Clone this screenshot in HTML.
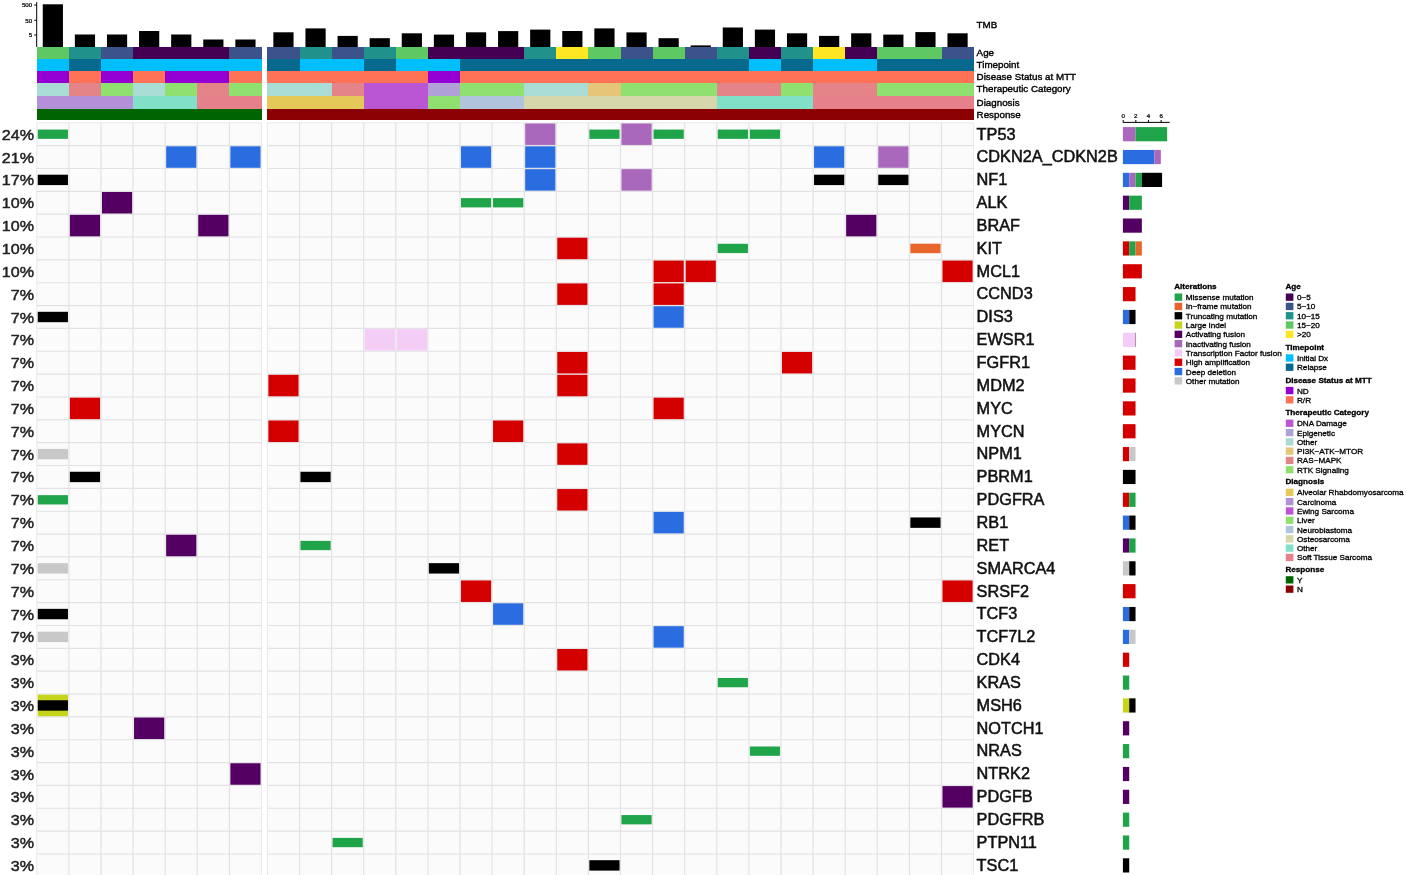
<!DOCTYPE html>
<html lang="en">
<head>
<meta charset="utf-8">
<title>Oncoprint</title>
<style>
html,body{margin:0;padding:0;background:#fff;}
body{width:1406px;height:875px;overflow:hidden;}
svg{display:block;font-family:"Liberation Sans",Arial,Helvetica,sans-serif;}
</style>
</head>
<body>
<svg width="1406" height="875" viewBox="0 0 1406 875">
<rect width="1406" height="875" fill="#fff"/>
<g id="tmb">
<rect x="42.75" y="4.30" width="20.20" height="42.90" fill="#000"/>
<rect x="74.85" y="34.50" width="20.20" height="12.70" fill="#000"/>
<rect x="106.95" y="34.50" width="20.20" height="12.70" fill="#000"/>
<rect x="139.05" y="31.00" width="20.20" height="16.20" fill="#000"/>
<rect x="171.15" y="34.50" width="20.20" height="12.70" fill="#000"/>
<rect x="203.25" y="39.50" width="20.20" height="7.70" fill="#000"/>
<rect x="235.35" y="39.50" width="20.20" height="7.70" fill="#000"/>
<rect x="273.35" y="32.30" width="20.20" height="14.90" fill="#000"/>
<rect x="305.45" y="28.40" width="20.20" height="18.80" fill="#000"/>
<rect x="337.55" y="35.90" width="20.20" height="11.30" fill="#000"/>
<rect x="369.65" y="38.20" width="20.20" height="9.00" fill="#000"/>
<rect x="401.75" y="33.30" width="20.20" height="13.90" fill="#000"/>
<rect x="433.85" y="34.60" width="20.20" height="12.60" fill="#000"/>
<rect x="465.95" y="32.30" width="20.20" height="14.90" fill="#000"/>
<rect x="498.05" y="31.10" width="20.20" height="16.10" fill="#000"/>
<rect x="530.15" y="29.60" width="20.20" height="17.60" fill="#000"/>
<rect x="562.25" y="31.00" width="20.20" height="16.20" fill="#000"/>
<rect x="594.35" y="28.40" width="20.20" height="18.80" fill="#000"/>
<rect x="626.45" y="32.40" width="20.20" height="14.80" fill="#000"/>
<rect x="658.55" y="38.20" width="20.20" height="9.00" fill="#000"/>
<rect x="690.65" y="45.40" width="20.20" height="1.80" fill="#000"/>
<rect x="722.75" y="27.50" width="20.20" height="19.70" fill="#000"/>
<rect x="754.85" y="29.60" width="20.20" height="17.60" fill="#000"/>
<rect x="786.95" y="33.30" width="20.20" height="13.90" fill="#000"/>
<rect x="819.05" y="35.90" width="20.20" height="11.30" fill="#000"/>
<rect x="851.15" y="33.30" width="20.20" height="13.90" fill="#000"/>
<rect x="883.25" y="34.60" width="20.20" height="12.60" fill="#000"/>
<rect x="915.35" y="32.10" width="20.20" height="15.10" fill="#000"/>
<rect x="947.45" y="33.30" width="20.20" height="13.90" fill="#000"/>
<path d="M36.7 2.2V46.9 M34.2 5H36.7 M34.2 20.3H36.7 M34.2 35H36.7" stroke="#000" stroke-width="1" fill="none"/>
<text transform="translate(32.20 7.20) scale(1.1 1)" font-size="5.64" text-anchor="end" fill="#000" stroke="#000" stroke-width="0.23">500</text>
<text transform="translate(32.20 22.50) scale(1.1 1)" font-size="5.64" text-anchor="end" fill="#000" stroke="#000" stroke-width="0.23">50</text>
<text transform="translate(32.20 37.20) scale(1.1 1)" font-size="5.64" text-anchor="end" fill="#000" stroke="#000" stroke-width="0.23">5</text>
</g>
<g id="annot" shape-rendering="crispEdges">
<rect x="36.80" y="47.00" width="32.10" height="11.90" fill="#5ec962"/>
<rect x="68.90" y="47.00" width="32.10" height="11.90" fill="#21918c"/>
<rect x="101.00" y="47.00" width="32.10" height="11.90" fill="#3b528b"/>
<rect x="133.10" y="47.00" width="96.30" height="11.90" fill="#440154"/>
<rect x="229.40" y="47.00" width="32.10" height="11.90" fill="#3b528b"/>
<rect x="267.40" y="47.00" width="32.10" height="11.90" fill="#3b528b"/>
<rect x="299.50" y="47.00" width="32.10" height="11.90" fill="#21918c"/>
<rect x="331.60" y="47.00" width="32.10" height="11.90" fill="#3b528b"/>
<rect x="363.70" y="47.00" width="32.10" height="11.90" fill="#21918c"/>
<rect x="395.80" y="47.00" width="32.10" height="11.90" fill="#5ec962"/>
<rect x="427.90" y="47.00" width="96.30" height="11.90" fill="#440154"/>
<rect x="524.20" y="47.00" width="32.10" height="11.90" fill="#21918c"/>
<rect x="556.30" y="47.00" width="32.10" height="11.90" fill="#fde725"/>
<rect x="588.40" y="47.00" width="32.10" height="11.90" fill="#5ec962"/>
<rect x="620.50" y="47.00" width="32.10" height="11.90" fill="#3b528b"/>
<rect x="652.60" y="47.00" width="32.10" height="11.90" fill="#5ec962"/>
<rect x="684.70" y="47.00" width="32.10" height="11.90" fill="#3b528b"/>
<rect x="716.80" y="47.00" width="32.10" height="11.90" fill="#21918c"/>
<rect x="748.90" y="47.00" width="32.10" height="11.90" fill="#440154"/>
<rect x="781.00" y="47.00" width="32.10" height="11.90" fill="#21918c"/>
<rect x="813.10" y="47.00" width="32.10" height="11.90" fill="#fde725"/>
<rect x="845.20" y="47.00" width="32.10" height="11.90" fill="#440154"/>
<rect x="877.30" y="47.00" width="64.20" height="11.90" fill="#5ec962"/>
<rect x="941.50" y="47.00" width="32.10" height="11.90" fill="#3b528b"/>
<rect x="36.80" y="58.60" width="32.10" height="12.40" fill="#00bfff"/>
<rect x="68.90" y="58.60" width="32.10" height="12.40" fill="#08698f"/>
<rect x="101.00" y="58.60" width="160.50" height="12.40" fill="#00bfff"/>
<rect x="267.40" y="58.60" width="32.10" height="12.40" fill="#08698f"/>
<rect x="299.50" y="58.60" width="64.20" height="12.40" fill="#00bfff"/>
<rect x="363.70" y="58.60" width="32.10" height="12.40" fill="#08698f"/>
<rect x="395.80" y="58.60" width="64.20" height="12.40" fill="#00bfff"/>
<rect x="460.00" y="58.60" width="288.90" height="12.40" fill="#08698f"/>
<rect x="748.90" y="58.60" width="32.10" height="12.40" fill="#00bfff"/>
<rect x="781.00" y="58.60" width="32.10" height="12.40" fill="#08698f"/>
<rect x="813.10" y="58.60" width="64.20" height="12.40" fill="#00bfff"/>
<rect x="877.30" y="58.60" width="96.30" height="12.40" fill="#08698f"/>
<rect x="36.80" y="70.70" width="32.10" height="12.40" fill="#9400d3"/>
<rect x="68.90" y="70.70" width="32.10" height="12.40" fill="#ff7256"/>
<rect x="101.00" y="70.70" width="32.10" height="12.40" fill="#9400d3"/>
<rect x="133.10" y="70.70" width="32.10" height="12.40" fill="#ff7256"/>
<rect x="165.20" y="70.70" width="64.20" height="12.40" fill="#9400d3"/>
<rect x="229.40" y="70.70" width="32.10" height="12.40" fill="#ff7256"/>
<rect x="267.40" y="70.70" width="160.50" height="12.40" fill="#ff7256"/>
<rect x="427.90" y="70.70" width="32.10" height="12.40" fill="#9400d3"/>
<rect x="460.00" y="70.70" width="513.60" height="12.40" fill="#ff7256"/>
<rect x="36.80" y="82.80" width="32.10" height="13.10" fill="#a8dcd4"/>
<rect x="68.90" y="82.80" width="32.10" height="13.10" fill="#e48488"/>
<rect x="101.00" y="82.80" width="32.10" height="13.10" fill="#90e070"/>
<rect x="133.10" y="82.80" width="32.10" height="13.10" fill="#a8dcd4"/>
<rect x="165.20" y="82.80" width="32.10" height="13.10" fill="#90e070"/>
<rect x="197.30" y="82.80" width="32.10" height="13.10" fill="#e48488"/>
<rect x="229.40" y="82.80" width="32.10" height="13.10" fill="#90e070"/>
<rect x="267.40" y="82.80" width="64.20" height="13.10" fill="#a8dcd4"/>
<rect x="331.60" y="82.80" width="32.10" height="13.10" fill="#e48488"/>
<rect x="363.70" y="82.80" width="64.20" height="13.10" fill="#ba55d3"/>
<rect x="427.90" y="82.80" width="32.10" height="13.10" fill="#b0a0d8"/>
<rect x="460.00" y="82.80" width="64.20" height="13.10" fill="#90e070"/>
<rect x="524.20" y="82.80" width="64.20" height="13.10" fill="#a8dcd4"/>
<rect x="588.40" y="82.80" width="32.10" height="13.10" fill="#e6c478"/>
<rect x="620.50" y="82.80" width="96.30" height="13.10" fill="#90e070"/>
<rect x="716.80" y="82.80" width="64.20" height="13.10" fill="#e48488"/>
<rect x="781.00" y="82.80" width="32.10" height="13.10" fill="#90e070"/>
<rect x="813.10" y="82.80" width="64.20" height="13.10" fill="#e48488"/>
<rect x="877.30" y="82.80" width="96.30" height="13.10" fill="#90e070"/>
<rect x="36.80" y="95.60" width="96.30" height="13.30" fill="#b490d8"/>
<rect x="133.10" y="95.60" width="64.20" height="13.30" fill="#80e0c8"/>
<rect x="197.30" y="95.60" width="64.20" height="13.30" fill="#e6808a"/>
<rect x="267.40" y="95.60" width="96.30" height="13.30" fill="#e4c858"/>
<rect x="363.70" y="95.60" width="64.20" height="13.30" fill="#ba55d3"/>
<rect x="427.90" y="95.60" width="32.10" height="13.30" fill="#90e070"/>
<rect x="460.00" y="95.60" width="64.20" height="13.30" fill="#b0c4de"/>
<rect x="524.20" y="95.60" width="192.60" height="13.30" fill="#d6d8ac"/>
<rect x="716.80" y="95.60" width="96.30" height="13.30" fill="#80e0c8"/>
<rect x="813.10" y="95.60" width="160.50" height="13.30" fill="#e6808a"/>
<rect x="36.80" y="108.60" width="224.70" height="11.60" fill="#006400"/>
<rect x="267.40" y="108.60" width="706.20" height="11.60" fill="#8b0000"/>
</g>
<text transform="translate(976.60 55.70) scale(1.02 1)" font-size="9.61" fill="#000" stroke="#000" stroke-width="0.38">Age</text>
<text transform="translate(976.60 67.60) scale(1.02 1)" font-size="9.61" fill="#000" stroke="#000" stroke-width="0.38">Timepoint</text>
<text transform="translate(976.60 79.60) scale(1.02 1)" font-size="9.61" fill="#000" stroke="#000" stroke-width="0.38">Disease Status at MTT</text>
<text transform="translate(976.60 92.30) scale(1.02 1)" font-size="9.61" fill="#000" stroke="#000" stroke-width="0.38">Therapeutic Category</text>
<text transform="translate(976.60 106.00) scale(1.02 1)" font-size="9.61" fill="#000" stroke="#000" stroke-width="0.38">Diagnosis</text>
<text transform="translate(976.60 118.00) scale(1.02 1)" font-size="9.61" fill="#000" stroke="#000" stroke-width="0.38">Response</text>
<text transform="translate(976.60 27.80) scale(1.02 1)" font-size="9.61" fill="#000" stroke="#000" stroke-width="0.38">TMB</text>
<g id="grid">
<rect x="36.80" y="122.77" width="224.70" height="754.05" fill="#fbfbfb"/>
<rect x="267.40" y="122.77" width="706.20" height="754.05" fill="#fbfbfb"/>
<path d="M36.80 122.77V876.83M261.50 122.77V876.83M36.80 122.77H261.50M267.40 122.77V876.83M973.60 122.77V876.83M267.40 122.77H973.60" stroke="#e9e9ec" stroke-width="1" fill="none"/>
<path d="M68.90 122.77V876.83M101.00 122.77V876.83M133.10 122.77V876.83M165.20 122.77V876.83M197.30 122.77V876.83M229.40 122.77V876.83M36.80 145.62H261.50M36.80 168.47H261.50M36.80 191.32H261.50M36.80 214.18H261.50M36.80 237.02H261.50M36.80 259.88H261.50M36.80 282.73H261.50M36.80 305.57H261.50M36.80 328.43H261.50M36.80 351.27H261.50M36.80 374.12H261.50M36.80 396.98H261.50M36.80 419.82H261.50M36.80 442.68H261.50M36.80 465.52H261.50M36.80 488.38H261.50M36.80 511.23H261.50M36.80 534.08H261.50M36.80 556.93H261.50M36.80 579.77H261.50M36.80 602.62H261.50M36.80 625.48H261.50M36.80 648.33H261.50M36.80 671.18H261.50M36.80 694.02H261.50M36.80 716.88H261.50M36.80 739.73H261.50M36.80 762.58H261.50M36.80 785.43H261.50M36.80 808.27H261.50M36.80 831.12H261.50M36.80 853.98H261.50M36.80 876.83H261.50M299.50 122.77V876.83M331.60 122.77V876.83M363.70 122.77V876.83M395.80 122.77V876.83M427.90 122.77V876.83M460.00 122.77V876.83M492.10 122.77V876.83M524.20 122.77V876.83M556.30 122.77V876.83M588.40 122.77V876.83M620.50 122.77V876.83M652.60 122.77V876.83M684.70 122.77V876.83M716.80 122.77V876.83M748.90 122.77V876.83M781.00 122.77V876.83M813.10 122.77V876.83M845.20 122.77V876.83M877.30 122.77V876.83M909.40 122.77V876.83M941.50 122.77V876.83M267.40 145.62H973.60M267.40 168.47H973.60M267.40 191.32H973.60M267.40 214.18H973.60M267.40 237.02H973.60M267.40 259.88H973.60M267.40 282.73H973.60M267.40 305.57H973.60M267.40 328.43H973.60M267.40 351.27H973.60M267.40 374.12H973.60M267.40 396.98H973.60M267.40 419.82H973.60M267.40 442.68H973.60M267.40 465.52H973.60M267.40 488.38H973.60M267.40 511.23H973.60M267.40 534.08H973.60M267.40 556.93H973.60M267.40 579.77H973.60M267.40 602.62H973.60M267.40 625.48H973.60M267.40 648.33H973.60M267.40 671.18H973.60M267.40 694.02H973.60M267.40 716.88H973.60M267.40 739.73H973.60M267.40 762.58H973.60M267.40 785.43H973.60M267.40 808.27H973.60M267.40 831.12H973.60M267.40 853.98H973.60M267.40 876.83H973.60" stroke="#e2e2e5" stroke-width="1.15" fill="none"/>
</g>
<g id="alts">
<rect x="37.75" y="129.55" width="30.20" height="9.30" fill="#1fa449"/>
<rect x="525.15" y="123.45" width="30.20" height="21.50" fill="#aa68bd"/>
<rect x="589.35" y="129.55" width="30.20" height="9.30" fill="#1fa449"/>
<rect x="621.45" y="123.45" width="30.20" height="21.50" fill="#aa68bd"/>
<rect x="653.55" y="129.55" width="30.20" height="9.30" fill="#1fa449"/>
<rect x="717.75" y="129.55" width="30.20" height="9.30" fill="#1fa449"/>
<rect x="749.85" y="129.55" width="30.20" height="9.30" fill="#1fa449"/>
<rect x="166.15" y="146.30" width="30.20" height="21.50" fill="#2a6de0"/>
<rect x="230.35" y="146.30" width="30.20" height="21.50" fill="#2a6de0"/>
<rect x="460.95" y="146.30" width="30.20" height="21.50" fill="#2a6de0"/>
<rect x="525.15" y="146.30" width="30.20" height="21.50" fill="#2a6de0"/>
<rect x="814.05" y="146.30" width="30.20" height="21.50" fill="#2a6de0"/>
<rect x="878.25" y="146.30" width="30.20" height="21.50" fill="#aa68bd"/>
<rect x="37.75" y="174.70" width="30.20" height="10.40" fill="#000000"/>
<rect x="525.15" y="169.15" width="30.20" height="21.50" fill="#2a6de0"/>
<rect x="621.45" y="169.15" width="30.20" height="21.50" fill="#aa68bd"/>
<rect x="814.05" y="174.70" width="30.20" height="10.40" fill="#000000"/>
<rect x="878.25" y="174.70" width="30.20" height="10.40" fill="#000000"/>
<rect x="101.95" y="192.00" width="30.20" height="21.50" fill="#540062"/>
<rect x="460.95" y="198.10" width="30.20" height="9.30" fill="#1fa449"/>
<rect x="493.05" y="198.10" width="30.20" height="9.30" fill="#1fa449"/>
<rect x="69.85" y="214.85" width="30.20" height="21.50" fill="#540062"/>
<rect x="198.25" y="214.85" width="30.20" height="21.50" fill="#540062"/>
<rect x="846.15" y="214.85" width="30.20" height="21.50" fill="#540062"/>
<rect x="557.25" y="237.70" width="30.20" height="21.50" fill="#d40000"/>
<rect x="717.75" y="243.80" width="30.20" height="9.30" fill="#1fa449"/>
<rect x="910.35" y="243.70" width="30.20" height="9.50" fill="#e8662c"/>
<rect x="653.55" y="260.55" width="30.20" height="21.50" fill="#d40000"/>
<rect x="685.65" y="260.55" width="30.20" height="21.50" fill="#d40000"/>
<rect x="942.45" y="260.55" width="30.20" height="21.50" fill="#d40000"/>
<rect x="557.25" y="283.40" width="30.20" height="21.50" fill="#d40000"/>
<rect x="653.55" y="283.40" width="30.20" height="21.50" fill="#d40000"/>
<rect x="37.75" y="311.80" width="30.20" height="10.40" fill="#000000"/>
<rect x="653.55" y="306.25" width="30.20" height="21.50" fill="#2a6de0"/>
<rect x="364.65" y="329.10" width="30.20" height="21.50" fill="#f3cdf6"/>
<rect x="396.75" y="329.10" width="30.20" height="21.50" fill="#f3cdf6"/>
<rect x="557.25" y="351.95" width="30.20" height="21.50" fill="#d40000"/>
<rect x="781.95" y="351.95" width="30.20" height="21.50" fill="#d40000"/>
<rect x="268.35" y="374.80" width="30.20" height="21.50" fill="#d40000"/>
<rect x="557.25" y="374.80" width="30.20" height="21.50" fill="#d40000"/>
<rect x="69.85" y="397.65" width="30.20" height="21.50" fill="#d40000"/>
<rect x="653.55" y="397.65" width="30.20" height="21.50" fill="#d40000"/>
<rect x="268.35" y="420.50" width="30.20" height="21.50" fill="#d40000"/>
<rect x="493.05" y="420.50" width="30.20" height="21.50" fill="#d40000"/>
<rect x="37.75" y="448.90" width="30.20" height="10.40" fill="#c8c8c8"/>
<rect x="557.25" y="443.35" width="30.20" height="21.50" fill="#d40000"/>
<rect x="69.85" y="471.75" width="30.20" height="10.40" fill="#000000"/>
<rect x="300.45" y="471.75" width="30.20" height="10.40" fill="#000000"/>
<rect x="37.75" y="495.15" width="30.20" height="9.30" fill="#1fa449"/>
<rect x="557.25" y="489.05" width="30.20" height="21.50" fill="#d40000"/>
<rect x="653.55" y="511.90" width="30.20" height="21.50" fill="#2a6de0"/>
<rect x="910.35" y="517.45" width="30.20" height="10.40" fill="#000000"/>
<rect x="166.15" y="534.75" width="30.20" height="21.50" fill="#540062"/>
<rect x="300.45" y="540.85" width="30.20" height="9.30" fill="#1fa449"/>
<rect x="37.75" y="563.15" width="30.20" height="10.40" fill="#c8c8c8"/>
<rect x="428.85" y="563.15" width="30.20" height="10.40" fill="#000000"/>
<rect x="460.95" y="580.45" width="30.20" height="21.50" fill="#d40000"/>
<rect x="942.45" y="580.45" width="30.20" height="21.50" fill="#d40000"/>
<rect x="37.75" y="608.85" width="30.20" height="10.40" fill="#000000"/>
<rect x="493.05" y="603.30" width="30.20" height="21.50" fill="#2a6de0"/>
<rect x="37.75" y="631.70" width="30.20" height="10.40" fill="#c8c8c8"/>
<rect x="653.55" y="626.15" width="30.20" height="21.50" fill="#2a6de0"/>
<rect x="557.25" y="649.00" width="30.20" height="21.50" fill="#d40000"/>
<rect x="717.75" y="677.95" width="30.20" height="9.30" fill="#1fa449"/>
<rect x="37.75" y="694.70" width="30.20" height="21.50" fill="#c6d41c"/>
<rect x="37.75" y="700.25" width="30.20" height="10.40" fill="#000000"/>
<rect x="134.05" y="717.55" width="30.20" height="21.50" fill="#540062"/>
<rect x="749.85" y="746.50" width="30.20" height="9.30" fill="#1fa449"/>
<rect x="230.35" y="763.25" width="30.20" height="21.50" fill="#540062"/>
<rect x="942.45" y="786.10" width="30.20" height="21.50" fill="#540062"/>
<rect x="621.45" y="815.05" width="30.20" height="9.30" fill="#1fa449"/>
<rect x="332.55" y="837.90" width="30.20" height="9.30" fill="#1fa449"/>
<rect x="589.35" y="860.20" width="30.20" height="10.40" fill="#000000"/>
</g>
<g id="labels">
<text transform="translate(34.00 139.70) scale(1.07 1)" font-size="15.05" text-anchor="end" fill="#222" stroke="#222" stroke-width="0.48">24%</text>
<text transform="translate(976.60 139.50) scale(1 1)" font-size="16.30" fill="#111" stroke="#111" stroke-width="0.52">TP53</text>
<text transform="translate(34.00 162.55) scale(1.07 1)" font-size="15.05" text-anchor="end" fill="#222" stroke="#222" stroke-width="0.48">21%</text>
<text transform="translate(976.60 162.35) scale(1 1)" font-size="16.30" fill="#111" stroke="#111" stroke-width="0.52">CDKN2A_CDKN2B</text>
<text transform="translate(34.00 185.40) scale(1.07 1)" font-size="15.05" text-anchor="end" fill="#222" stroke="#222" stroke-width="0.48">17%</text>
<text transform="translate(976.60 185.20) scale(1 1)" font-size="16.30" fill="#111" stroke="#111" stroke-width="0.52">NF1</text>
<text transform="translate(34.00 208.25) scale(1.07 1)" font-size="15.05" text-anchor="end" fill="#222" stroke="#222" stroke-width="0.48">10%</text>
<text transform="translate(976.60 208.05) scale(1 1)" font-size="16.30" fill="#111" stroke="#111" stroke-width="0.52">ALK</text>
<text transform="translate(34.00 231.10) scale(1.07 1)" font-size="15.05" text-anchor="end" fill="#222" stroke="#222" stroke-width="0.48">10%</text>
<text transform="translate(976.60 230.90) scale(1 1)" font-size="16.30" fill="#111" stroke="#111" stroke-width="0.52">BRAF</text>
<text transform="translate(34.00 253.95) scale(1.07 1)" font-size="15.05" text-anchor="end" fill="#222" stroke="#222" stroke-width="0.48">10%</text>
<text transform="translate(976.60 253.75) scale(1 1)" font-size="16.30" fill="#111" stroke="#111" stroke-width="0.52">KIT</text>
<text transform="translate(34.00 276.80) scale(1.07 1)" font-size="15.05" text-anchor="end" fill="#222" stroke="#222" stroke-width="0.48">10%</text>
<text transform="translate(976.60 276.60) scale(1 1)" font-size="16.30" fill="#111" stroke="#111" stroke-width="0.52">MCL1</text>
<text transform="translate(34.00 299.65) scale(1.07 1)" font-size="15.05" text-anchor="end" fill="#222" stroke="#222" stroke-width="0.48">7%</text>
<text transform="translate(976.60 299.45) scale(1 1)" font-size="16.30" fill="#111" stroke="#111" stroke-width="0.52">CCND3</text>
<text transform="translate(34.00 322.50) scale(1.07 1)" font-size="15.05" text-anchor="end" fill="#222" stroke="#222" stroke-width="0.48">7%</text>
<text transform="translate(976.60 322.30) scale(1 1)" font-size="16.30" fill="#111" stroke="#111" stroke-width="0.52">DIS3</text>
<text transform="translate(34.00 345.35) scale(1.07 1)" font-size="15.05" text-anchor="end" fill="#222" stroke="#222" stroke-width="0.48">7%</text>
<text transform="translate(976.60 345.15) scale(1 1)" font-size="16.30" fill="#111" stroke="#111" stroke-width="0.52">EWSR1</text>
<text transform="translate(34.00 368.20) scale(1.07 1)" font-size="15.05" text-anchor="end" fill="#222" stroke="#222" stroke-width="0.48">7%</text>
<text transform="translate(976.60 368.00) scale(1 1)" font-size="16.30" fill="#111" stroke="#111" stroke-width="0.52">FGFR1</text>
<text transform="translate(34.00 391.05) scale(1.07 1)" font-size="15.05" text-anchor="end" fill="#222" stroke="#222" stroke-width="0.48">7%</text>
<text transform="translate(976.60 390.85) scale(1 1)" font-size="16.30" fill="#111" stroke="#111" stroke-width="0.52">MDM2</text>
<text transform="translate(34.00 413.90) scale(1.07 1)" font-size="15.05" text-anchor="end" fill="#222" stroke="#222" stroke-width="0.48">7%</text>
<text transform="translate(976.60 413.70) scale(1 1)" font-size="16.30" fill="#111" stroke="#111" stroke-width="0.52">MYC</text>
<text transform="translate(34.00 436.75) scale(1.07 1)" font-size="15.05" text-anchor="end" fill="#222" stroke="#222" stroke-width="0.48">7%</text>
<text transform="translate(976.60 436.55) scale(1 1)" font-size="16.30" fill="#111" stroke="#111" stroke-width="0.52">MYCN</text>
<text transform="translate(34.00 459.60) scale(1.07 1)" font-size="15.05" text-anchor="end" fill="#222" stroke="#222" stroke-width="0.48">7%</text>
<text transform="translate(976.60 459.40) scale(1 1)" font-size="16.30" fill="#111" stroke="#111" stroke-width="0.52">NPM1</text>
<text transform="translate(34.00 482.45) scale(1.07 1)" font-size="15.05" text-anchor="end" fill="#222" stroke="#222" stroke-width="0.48">7%</text>
<text transform="translate(976.60 482.25) scale(1 1)" font-size="16.30" fill="#111" stroke="#111" stroke-width="0.52">PBRM1</text>
<text transform="translate(34.00 505.30) scale(1.07 1)" font-size="15.05" text-anchor="end" fill="#222" stroke="#222" stroke-width="0.48">7%</text>
<text transform="translate(976.60 505.10) scale(1 1)" font-size="16.30" fill="#111" stroke="#111" stroke-width="0.52">PDGFRA</text>
<text transform="translate(34.00 528.15) scale(1.07 1)" font-size="15.05" text-anchor="end" fill="#222" stroke="#222" stroke-width="0.48">7%</text>
<text transform="translate(976.60 527.95) scale(1 1)" font-size="16.30" fill="#111" stroke="#111" stroke-width="0.52">RB1</text>
<text transform="translate(34.00 551.00) scale(1.07 1)" font-size="15.05" text-anchor="end" fill="#222" stroke="#222" stroke-width="0.48">7%</text>
<text transform="translate(976.60 550.80) scale(1 1)" font-size="16.30" fill="#111" stroke="#111" stroke-width="0.52">RET</text>
<text transform="translate(34.00 573.85) scale(1.07 1)" font-size="15.05" text-anchor="end" fill="#222" stroke="#222" stroke-width="0.48">7%</text>
<text transform="translate(976.60 573.65) scale(1 1)" font-size="16.30" fill="#111" stroke="#111" stroke-width="0.52">SMARCA4</text>
<text transform="translate(34.00 596.70) scale(1.07 1)" font-size="15.05" text-anchor="end" fill="#222" stroke="#222" stroke-width="0.48">7%</text>
<text transform="translate(976.60 596.50) scale(1 1)" font-size="16.30" fill="#111" stroke="#111" stroke-width="0.52">SRSF2</text>
<text transform="translate(34.00 619.55) scale(1.07 1)" font-size="15.05" text-anchor="end" fill="#222" stroke="#222" stroke-width="0.48">7%</text>
<text transform="translate(976.60 619.35) scale(1 1)" font-size="16.30" fill="#111" stroke="#111" stroke-width="0.52">TCF3</text>
<text transform="translate(34.00 642.40) scale(1.07 1)" font-size="15.05" text-anchor="end" fill="#222" stroke="#222" stroke-width="0.48">7%</text>
<text transform="translate(976.60 642.20) scale(1 1)" font-size="16.30" fill="#111" stroke="#111" stroke-width="0.52">TCF7L2</text>
<text transform="translate(34.00 665.25) scale(1.07 1)" font-size="15.05" text-anchor="end" fill="#222" stroke="#222" stroke-width="0.48">3%</text>
<text transform="translate(976.60 665.05) scale(1 1)" font-size="16.30" fill="#111" stroke="#111" stroke-width="0.52">CDK4</text>
<text transform="translate(34.00 688.10) scale(1.07 1)" font-size="15.05" text-anchor="end" fill="#222" stroke="#222" stroke-width="0.48">3%</text>
<text transform="translate(976.60 687.90) scale(1 1)" font-size="16.30" fill="#111" stroke="#111" stroke-width="0.52">KRAS</text>
<text transform="translate(34.00 710.95) scale(1.07 1)" font-size="15.05" text-anchor="end" fill="#222" stroke="#222" stroke-width="0.48">3%</text>
<text transform="translate(976.60 710.75) scale(1 1)" font-size="16.30" fill="#111" stroke="#111" stroke-width="0.52">MSH6</text>
<text transform="translate(34.00 733.80) scale(1.07 1)" font-size="15.05" text-anchor="end" fill="#222" stroke="#222" stroke-width="0.48">3%</text>
<text transform="translate(976.60 733.60) scale(1 1)" font-size="16.30" fill="#111" stroke="#111" stroke-width="0.52">NOTCH1</text>
<text transform="translate(34.00 756.65) scale(1.07 1)" font-size="15.05" text-anchor="end" fill="#222" stroke="#222" stroke-width="0.48">3%</text>
<text transform="translate(976.60 756.45) scale(1 1)" font-size="16.30" fill="#111" stroke="#111" stroke-width="0.52">NRAS</text>
<text transform="translate(34.00 779.50) scale(1.07 1)" font-size="15.05" text-anchor="end" fill="#222" stroke="#222" stroke-width="0.48">3%</text>
<text transform="translate(976.60 779.30) scale(1 1)" font-size="16.30" fill="#111" stroke="#111" stroke-width="0.52">NTRK2</text>
<text transform="translate(34.00 802.35) scale(1.07 1)" font-size="15.05" text-anchor="end" fill="#222" stroke="#222" stroke-width="0.48">3%</text>
<text transform="translate(976.60 802.15) scale(1 1)" font-size="16.30" fill="#111" stroke="#111" stroke-width="0.52">PDGFB</text>
<text transform="translate(34.00 825.20) scale(1.07 1)" font-size="15.05" text-anchor="end" fill="#222" stroke="#222" stroke-width="0.48">3%</text>
<text transform="translate(976.60 825.00) scale(1 1)" font-size="16.30" fill="#111" stroke="#111" stroke-width="0.52">PDGFRB</text>
<text transform="translate(34.00 848.05) scale(1.07 1)" font-size="15.05" text-anchor="end" fill="#222" stroke="#222" stroke-width="0.48">3%</text>
<text transform="translate(976.60 847.85) scale(1 1)" font-size="16.30" fill="#111" stroke="#111" stroke-width="0.52">PTPN11</text>
<text transform="translate(34.00 870.90) scale(1.07 1)" font-size="15.05" text-anchor="end" fill="#222" stroke="#222" stroke-width="0.48">3%</text>
<text transform="translate(976.60 870.70) scale(1 1)" font-size="16.30" fill="#111" stroke="#111" stroke-width="0.52">TSC1</text>
</g>
<g id="rbar">
<rect x="1122.90" y="127.10" width="12.64" height="14.20" fill="#aa68bd"/>
<rect x="1135.54" y="127.10" width="31.60" height="14.20" fill="#1fa449"/>
<rect x="1122.90" y="149.95" width="31.60" height="14.20" fill="#2a6de0"/>
<rect x="1154.50" y="149.95" width="6.32" height="14.20" fill="#aa68bd"/>
<rect x="1122.90" y="172.80" width="6.32" height="14.20" fill="#2a6de0"/>
<rect x="1129.22" y="172.80" width="6.32" height="14.20" fill="#aa68bd"/>
<rect x="1135.54" y="172.80" width="6.32" height="14.20" fill="#1fa449"/>
<rect x="1141.86" y="172.80" width="20.22" height="14.20" fill="#000000"/>
<rect x="1122.90" y="195.65" width="6.32" height="14.20" fill="#540062"/>
<rect x="1129.22" y="195.65" width="12.64" height="14.20" fill="#1fa449"/>
<rect x="1122.90" y="218.50" width="18.96" height="14.20" fill="#540062"/>
<rect x="1122.90" y="241.35" width="6.32" height="14.20" fill="#d40000"/>
<rect x="1129.22" y="241.35" width="6.32" height="14.20" fill="#1fa449"/>
<rect x="1135.54" y="241.35" width="6.32" height="14.20" fill="#e8662c"/>
<rect x="1122.90" y="264.20" width="18.96" height="14.20" fill="#d40000"/>
<rect x="1122.90" y="287.05" width="12.64" height="14.20" fill="#d40000"/>
<rect x="1122.90" y="309.90" width="6.32" height="14.20" fill="#2a6de0"/>
<rect x="1129.22" y="309.90" width="6.32" height="14.20" fill="#000000"/>
<rect x="1122.90" y="332.75" width="12.64" height="14.20" fill="#f3cdf6"/>
<rect x="1135.24" y="332.75" width="0.80" height="14.20" fill="#a07898"/>
<rect x="1122.90" y="355.60" width="12.64" height="14.20" fill="#d40000"/>
<rect x="1122.90" y="378.45" width="12.64" height="14.20" fill="#d40000"/>
<rect x="1122.90" y="401.30" width="12.64" height="14.20" fill="#d40000"/>
<rect x="1122.90" y="424.15" width="12.64" height="14.20" fill="#d40000"/>
<rect x="1122.90" y="447.00" width="6.32" height="14.20" fill="#d40000"/>
<rect x="1129.22" y="447.00" width="6.32" height="14.20" fill="#c8c8c8"/>
<rect x="1122.90" y="469.85" width="12.64" height="14.20" fill="#000000"/>
<rect x="1122.90" y="492.70" width="6.32" height="14.20" fill="#d40000"/>
<rect x="1129.22" y="492.70" width="6.32" height="14.20" fill="#1fa449"/>
<rect x="1122.90" y="515.55" width="6.32" height="14.20" fill="#2a6de0"/>
<rect x="1129.22" y="515.55" width="6.32" height="14.20" fill="#000000"/>
<rect x="1122.90" y="538.40" width="6.32" height="14.20" fill="#540062"/>
<rect x="1129.22" y="538.40" width="6.32" height="14.20" fill="#1fa449"/>
<rect x="1122.90" y="561.25" width="6.32" height="14.20" fill="#c8c8c8"/>
<rect x="1129.22" y="561.25" width="6.32" height="14.20" fill="#000000"/>
<rect x="1122.90" y="584.10" width="12.64" height="14.20" fill="#d40000"/>
<rect x="1122.90" y="606.95" width="6.32" height="14.20" fill="#2a6de0"/>
<rect x="1129.22" y="606.95" width="6.32" height="14.20" fill="#000000"/>
<rect x="1122.90" y="629.80" width="6.32" height="14.20" fill="#2a6de0"/>
<rect x="1129.22" y="629.80" width="6.32" height="14.20" fill="#c8c8c8"/>
<rect x="1122.90" y="652.65" width="6.32" height="14.20" fill="#d40000"/>
<rect x="1122.90" y="675.50" width="6.32" height="14.20" fill="#1fa449"/>
<rect x="1122.90" y="698.35" width="6.32" height="14.20" fill="#c6d41c"/>
<rect x="1129.22" y="698.35" width="6.32" height="14.20" fill="#000000"/>
<rect x="1122.90" y="721.20" width="6.32" height="14.20" fill="#540062"/>
<rect x="1122.90" y="744.05" width="6.32" height="14.20" fill="#1fa449"/>
<rect x="1122.90" y="766.90" width="6.32" height="14.20" fill="#540062"/>
<rect x="1122.90" y="789.75" width="6.32" height="14.20" fill="#540062"/>
<rect x="1122.90" y="812.60" width="6.32" height="14.20" fill="#1fa449"/>
<rect x="1122.90" y="835.45" width="6.32" height="14.20" fill="#1fa449"/>
<rect x="1122.90" y="858.30" width="6.32" height="14.20" fill="#000000"/>
<text transform="translate(1123.20 118.40) scale(1.1 1)" font-size="5.64" text-anchor="middle" fill="#000" stroke="#000" stroke-width="0.23">0</text>
<text transform="translate(1135.84 118.40) scale(1.1 1)" font-size="5.64" text-anchor="middle" fill="#000" stroke="#000" stroke-width="0.23">2</text>
<text transform="translate(1148.48 118.40) scale(1.1 1)" font-size="5.64" text-anchor="middle" fill="#000" stroke="#000" stroke-width="0.23">4</text>
<text transform="translate(1161.12 118.40) scale(1.1 1)" font-size="5.64" text-anchor="middle" fill="#000" stroke="#000" stroke-width="0.23">6</text>
<path d="M1122.90 122.4H1169.7M1123.20 122.4V120M1135.84 122.4V120M1148.48 122.4V120M1161.12 122.4V120" stroke="#000" stroke-width="1" fill="none"/>
</g>
<g id="legend">
<text transform="translate(1174.20 289.20) scale(1.1 1)" font-size="7.41" font-weight="bold" fill="#000" stroke="#000" stroke-width="0.30">Alterations</text>
<rect x="1174.60" y="293.50" width="7.60" height="7.30" fill="#1fa449"/>
<text transform="translate(1185.80 300.10) scale(1.1 1)" font-size="7.41" fill="#000" stroke="#000" stroke-width="0.30">Missense mutation</text>
<rect x="1174.60" y="302.80" width="7.60" height="7.30" fill="#e8662c"/>
<text transform="translate(1185.80 309.40) scale(1.1 1)" font-size="7.41" fill="#000" stroke="#000" stroke-width="0.30">In−frame mutation</text>
<rect x="1174.60" y="312.10" width="7.60" height="7.30" fill="#000000"/>
<text transform="translate(1185.80 318.70) scale(1.1 1)" font-size="7.41" fill="#000" stroke="#000" stroke-width="0.30">Truncating mutation</text>
<rect x="1174.60" y="321.40" width="7.60" height="7.30" fill="#c6d41c"/>
<text transform="translate(1185.80 328.00) scale(1.1 1)" font-size="7.41" fill="#000" stroke="#000" stroke-width="0.30">Large indel</text>
<rect x="1174.60" y="330.70" width="7.60" height="7.30" fill="#540062"/>
<text transform="translate(1185.80 337.30) scale(1.1 1)" font-size="7.41" fill="#000" stroke="#000" stroke-width="0.30">Activating fusion</text>
<rect x="1174.60" y="340.00" width="7.60" height="7.30" fill="#aa68bd"/>
<text transform="translate(1185.80 346.60) scale(1.1 1)" font-size="7.41" fill="#000" stroke="#000" stroke-width="0.30">Inactivating fusion</text>
<rect x="1174.60" y="349.30" width="7.60" height="7.30" fill="#f3cdf6"/>
<text transform="translate(1185.80 355.90) scale(1.1 1)" font-size="7.41" fill="#000" stroke="#000" stroke-width="0.30">Transcription Factor fusion</text>
<rect x="1174.60" y="358.60" width="7.60" height="7.30" fill="#d40000"/>
<text transform="translate(1185.80 365.20) scale(1.1 1)" font-size="7.41" fill="#000" stroke="#000" stroke-width="0.30">High amplification</text>
<rect x="1174.60" y="367.90" width="7.60" height="7.30" fill="#2a6de0"/>
<text transform="translate(1185.80 374.50) scale(1.1 1)" font-size="7.41" fill="#000" stroke="#000" stroke-width="0.30">Deep deletion</text>
<rect x="1174.60" y="377.20" width="7.60" height="7.30" fill="#c8c8c8"/>
<text transform="translate(1185.80 383.80) scale(1.1 1)" font-size="7.41" fill="#000" stroke="#000" stroke-width="0.30">Other mutation</text>
<text transform="translate(1285.40 289.20) scale(1.1 1)" font-size="7.41" font-weight="bold" fill="#000" stroke="#000" stroke-width="0.30">Age</text>
<rect x="1285.80" y="293.50" width="7.60" height="7.30" fill="#440154"/>
<text transform="translate(1297.00 300.10) scale(1.1 1)" font-size="7.41" fill="#000" stroke="#000" stroke-width="0.30">0−5</text>
<rect x="1285.80" y="302.80" width="7.60" height="7.30" fill="#3b528b"/>
<text transform="translate(1297.00 309.40) scale(1.1 1)" font-size="7.41" fill="#000" stroke="#000" stroke-width="0.30">5−10</text>
<rect x="1285.80" y="312.10" width="7.60" height="7.30" fill="#21918c"/>
<text transform="translate(1297.00 318.70) scale(1.1 1)" font-size="7.41" fill="#000" stroke="#000" stroke-width="0.30">10−15</text>
<rect x="1285.80" y="321.40" width="7.60" height="7.30" fill="#5ec962"/>
<text transform="translate(1297.00 328.00) scale(1.1 1)" font-size="7.41" fill="#000" stroke="#000" stroke-width="0.30">15−20</text>
<rect x="1285.80" y="330.70" width="7.60" height="7.30" fill="#fde725"/>
<text transform="translate(1297.00 337.30) scale(1.1 1)" font-size="7.41" fill="#000" stroke="#000" stroke-width="0.30">&gt;20</text>
<text transform="translate(1285.40 350.00) scale(1.1 1)" font-size="7.41" font-weight="bold" fill="#000" stroke="#000" stroke-width="0.30">Timepoint</text>
<rect x="1285.80" y="354.30" width="7.60" height="7.30" fill="#00bfff"/>
<text transform="translate(1297.00 360.90) scale(1.1 1)" font-size="7.41" fill="#000" stroke="#000" stroke-width="0.30">Initial Dx</text>
<rect x="1285.80" y="363.60" width="7.60" height="7.30" fill="#08698f"/>
<text transform="translate(1297.00 370.20) scale(1.1 1)" font-size="7.41" fill="#000" stroke="#000" stroke-width="0.30">Relapse</text>
<text transform="translate(1285.40 382.60) scale(1.1 1)" font-size="7.41" font-weight="bold" fill="#000" stroke="#000" stroke-width="0.30">Disease Status at MTT</text>
<rect x="1285.80" y="386.90" width="7.60" height="7.30" fill="#9400d3"/>
<text transform="translate(1297.00 393.50) scale(1.1 1)" font-size="7.41" fill="#000" stroke="#000" stroke-width="0.30">ND</text>
<rect x="1285.80" y="396.20" width="7.60" height="7.30" fill="#ff7256"/>
<text transform="translate(1297.00 402.80) scale(1.1 1)" font-size="7.41" fill="#000" stroke="#000" stroke-width="0.30">R/R</text>
<text transform="translate(1285.40 415.30) scale(1.1 1)" font-size="7.41" font-weight="bold" fill="#000" stroke="#000" stroke-width="0.30">Therapeutic Category</text>
<rect x="1285.80" y="419.60" width="7.60" height="7.30" fill="#ba55d3"/>
<text transform="translate(1297.00 426.20) scale(1.1 1)" font-size="7.41" fill="#000" stroke="#000" stroke-width="0.30">DNA Damage</text>
<rect x="1285.80" y="428.90" width="7.60" height="7.30" fill="#b0a0d8"/>
<text transform="translate(1297.00 435.50) scale(1.1 1)" font-size="7.41" fill="#000" stroke="#000" stroke-width="0.30">Epigenetic</text>
<rect x="1285.80" y="438.20" width="7.60" height="7.30" fill="#a8dcd4"/>
<text transform="translate(1297.00 444.80) scale(1.1 1)" font-size="7.41" fill="#000" stroke="#000" stroke-width="0.30">Other</text>
<rect x="1285.80" y="447.50" width="7.60" height="7.30" fill="#e6c478"/>
<text transform="translate(1297.00 454.10) scale(1.1 1)" font-size="7.41" fill="#000" stroke="#000" stroke-width="0.30">PI3K−ATK−MTOR</text>
<rect x="1285.80" y="456.80" width="7.60" height="7.30" fill="#e48488"/>
<text transform="translate(1297.00 463.40) scale(1.1 1)" font-size="7.41" fill="#000" stroke="#000" stroke-width="0.30">RAS−MAPK</text>
<rect x="1285.80" y="466.10" width="7.60" height="7.30" fill="#90e070"/>
<text transform="translate(1297.00 472.70) scale(1.1 1)" font-size="7.41" fill="#000" stroke="#000" stroke-width="0.30">RTK Signaling</text>
<text transform="translate(1285.40 484.40) scale(1.1 1)" font-size="7.41" font-weight="bold" fill="#000" stroke="#000" stroke-width="0.30">Diagnosis</text>
<rect x="1285.80" y="488.70" width="7.60" height="7.30" fill="#e4c858"/>
<text transform="translate(1297.00 495.30) scale(1.1 1)" font-size="7.41" fill="#000" stroke="#000" stroke-width="0.30">Alveolar Rhabdomyosarcoma</text>
<rect x="1285.80" y="498.00" width="7.60" height="7.30" fill="#b490d8"/>
<text transform="translate(1297.00 504.60) scale(1.1 1)" font-size="7.41" fill="#000" stroke="#000" stroke-width="0.30">Carcinoma</text>
<rect x="1285.80" y="507.30" width="7.60" height="7.30" fill="#ba55d3"/>
<text transform="translate(1297.00 513.90) scale(1.1 1)" font-size="7.41" fill="#000" stroke="#000" stroke-width="0.30">Ewing Sarcoma</text>
<rect x="1285.80" y="516.60" width="7.60" height="7.30" fill="#90e070"/>
<text transform="translate(1297.00 523.20) scale(1.1 1)" font-size="7.41" fill="#000" stroke="#000" stroke-width="0.30">Liver</text>
<rect x="1285.80" y="525.90" width="7.60" height="7.30" fill="#b0c4de"/>
<text transform="translate(1297.00 532.50) scale(1.1 1)" font-size="7.41" fill="#000" stroke="#000" stroke-width="0.30">Neuroblastoma</text>
<rect x="1285.80" y="535.20" width="7.60" height="7.30" fill="#d6d8ac"/>
<text transform="translate(1297.00 541.80) scale(1.1 1)" font-size="7.41" fill="#000" stroke="#000" stroke-width="0.30">Osteosarcoma</text>
<rect x="1285.80" y="544.50" width="7.60" height="7.30" fill="#80e0c8"/>
<text transform="translate(1297.00 551.10) scale(1.1 1)" font-size="7.41" fill="#000" stroke="#000" stroke-width="0.30">Other</text>
<rect x="1285.80" y="553.80" width="7.60" height="7.30" fill="#e6808a"/>
<text transform="translate(1297.00 560.40) scale(1.1 1)" font-size="7.41" fill="#000" stroke="#000" stroke-width="0.30">Soft Tissue Sarcoma</text>
<text transform="translate(1285.40 571.90) scale(1.1 1)" font-size="7.41" font-weight="bold" fill="#000" stroke="#000" stroke-width="0.30">Response</text>
<rect x="1285.80" y="576.20" width="7.60" height="7.30" fill="#006400"/>
<text transform="translate(1297.00 582.80) scale(1.1 1)" font-size="7.41" fill="#000" stroke="#000" stroke-width="0.30">Y</text>
<rect x="1285.80" y="585.50" width="7.60" height="7.30" fill="#8b0000"/>
<text transform="translate(1297.00 592.10) scale(1.1 1)" font-size="7.41" fill="#000" stroke="#000" stroke-width="0.30">N</text>
</g>
</svg>
</body>
</html>
